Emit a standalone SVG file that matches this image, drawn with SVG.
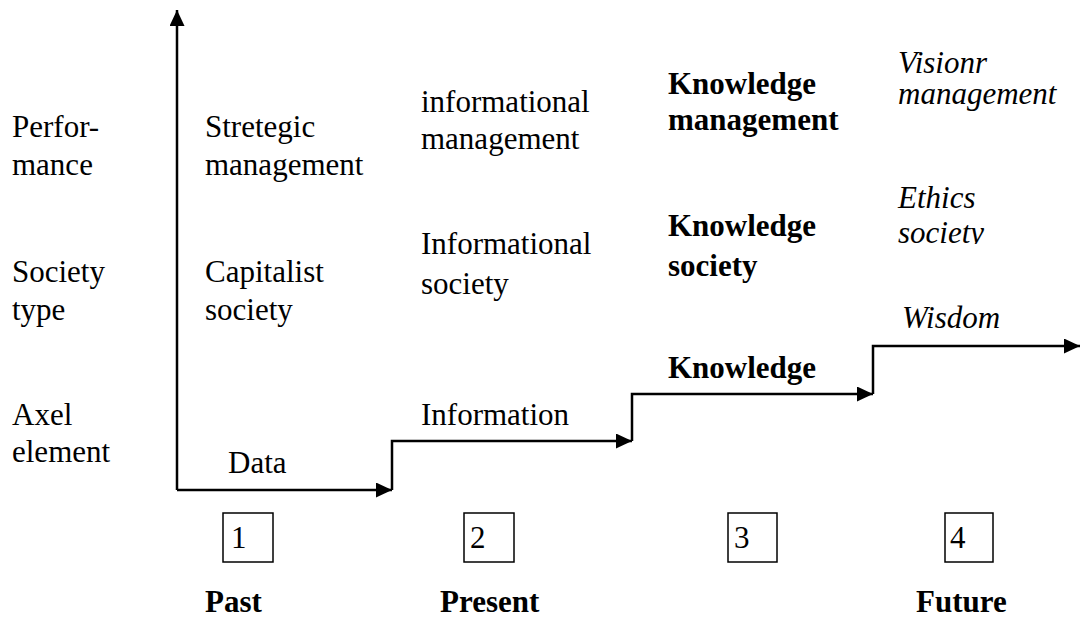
<svg xmlns="http://www.w3.org/2000/svg" width="1080" height="621" viewBox="0 0 1080 621">
<style>
text{font-size:31px;fill:#000}
.b{font-weight:bold}
.i{font-style:italic}
.ln{fill:none;stroke:#000;stroke-width:2.5}
.box{fill:none;stroke:#000;stroke-width:1.5}
</style>
<defs>
<marker id="ah" markerUnits="userSpaceOnUse" markerWidth="16" markerHeight="15" refX="16" refY="7.5" orient="auto">
<path d="M0,0 L16,7.5 L0,15 z" fill="#000"/>
</marker>
<clipPath id="clipEth"><rect x="880" y="180" width="200" height="64"/></clipPath>
</defs>
<rect width="1080" height="621" fill="#fff"/>
<g id="connectors">
<path class="ln" d="M177,490 V10" marker-end="url(#ah)"/>
<path class="ln" d="M177,490 H392" marker-end="url(#ah)"/>
<path class="ln" d="M392,490 V441 H632" marker-end="url(#ah)"/>
<path class="ln" d="M632,441 V394 H873" marker-end="url(#ah)"/>
<path class="ln" d="M873,394 V346 H1080" marker-end="url(#ah)"/>
</g>
<g font-family="Liberation Serif, serif">
<g id="row-labels">
<text x="12" y="137">Perfor-</text>
<text x="12" y="175">mance</text>
<text x="12" y="282">Society</text>
<text x="12" y="320">type</text>
<text x="12" y="425">Axel</text>
<text x="12" y="462">element</text>
</g>
<g id="stage1">
<text x="205" y="137">Stretegic</text>
<text x="205" y="175">management</text>
<text x="205" y="282">Capitalist</text>
<text x="205" y="320">society</text>
<text x="228" y="473">Data</text>
</g>
<g id="stage2">
<text x="421" y="112">informational</text>
<text x="421" y="149">management</text>
<text x="421" y="254">Informational</text>
<text x="421" y="294">society</text>
<text x="421" y="425">Information</text>
</g>
<g id="stage3">
<text class="b" x="668" y="94">Knowledge</text>
<text class="b" x="668" y="130">management</text>
<text class="b" x="668" y="236">Knowledge</text>
<text class="b" x="668" y="276">society</text>
<text class="b" x="668" y="378">Knowledge</text>
</g>
<g id="stage4">
<text class="i" x="898" y="73">Visionr</text>
<text class="i" x="898" y="104">management</text>
<text class="i" x="898" y="208">Ethics</text>
<text class="i" x="898" y="243" clip-path="url(#clipEth)">society</text>
<text class="i" x="902" y="328">Wisdom</text>
</g>
<g id="box1"><rect class="box" x="223" y="513" width="50" height="49"/><text x="231" y="548">1</text></g>
<g id="box2"><rect class="box" x="464" y="513" width="50" height="49"/><text x="470" y="548">2</text></g>
<g id="box3"><rect class="box" x="728" y="513" width="49" height="49"/><text x="734" y="548">3</text></g>
<g id="box4"><rect class="box" x="945" y="513" width="48" height="49"/><text x="950" y="548">4</text></g>
<g id="periods">
<text class="b" x="205" y="612">Past</text>
<text class="b" x="440" y="612">Present</text>
<text class="b" x="916" y="612">Future</text>
</g>
</g>
</svg>
